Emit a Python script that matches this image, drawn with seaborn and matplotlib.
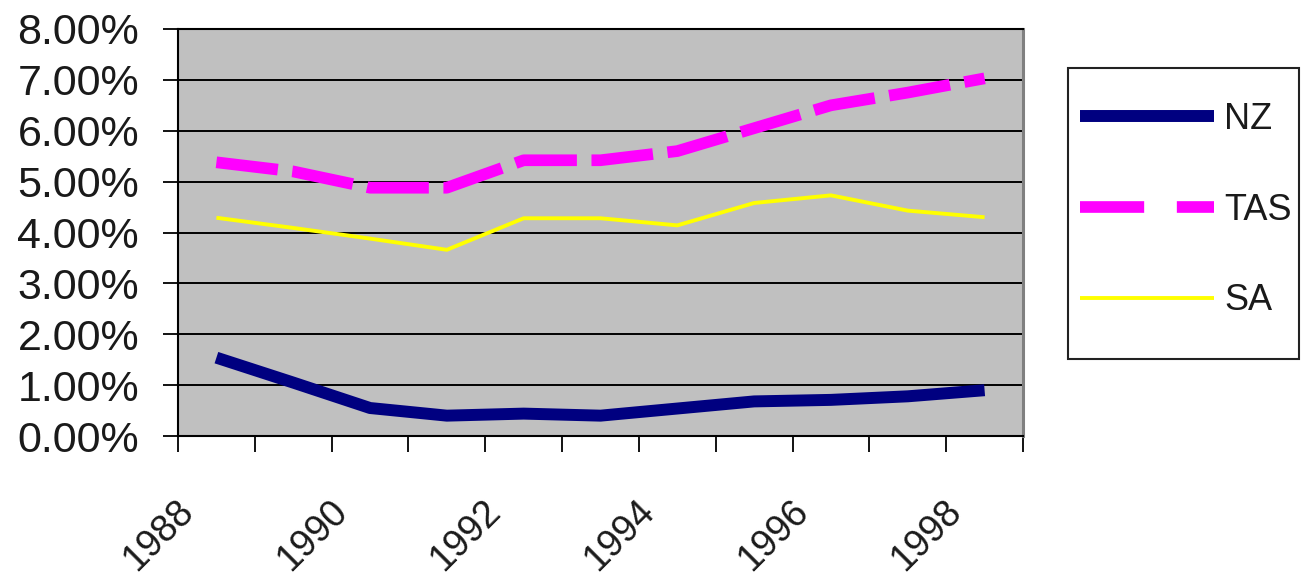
import numpy as np
import pandas as pd
import matplotlib
matplotlib.use("Agg")
import matplotlib.pyplot as plt
import matplotlib.transforms as mtransforms
from matplotlib.patches import Rectangle
from matplotlib.lines import Line2D
from matplotlib.ticker import FuncFormatter
import seaborn as sns

# ---- data ----
years = [1988, 1989, 1990, 1991, 1992, 1993, 1994, 1995, 1996, 1997, 1998]
nz = [1.54, 1.05, 0.55, 0.40, 0.44, 0.40, 0.54, 0.68, 0.71, 0.78, 0.90]
tas = [5.38, 5.20, 4.88, 4.88, 5.42, 5.42, 5.60, 6.05, 6.50, 6.75, 7.03]
sa = [4.29, 4.09, 3.88, 3.66, 4.28, 4.28, 4.14, 4.58, 4.73, 4.43, 4.30]
series_names = ["NZ", "TAS", "SA"]
label_years = [1988, 1990, 1992, 1994, 1996, 1998]
y_ticks = [0, 1, 2, 3, 4, 5, 6, 7, 8]

sns.set_theme(style="white")
plt.rcParams["font.family"] = ["Liberation Sans", "DejaVu Sans"]

W, H = 1302, 582
fig = plt.figure(figsize=(W / 100, H / 100), dpi=100)
ax = fig.add_axes([178 / W, 1 - 436 / H, (1023 - 178) / W, (436 - 29) / H])
ax.set_facecolor("#C0C0C0")

styles = {
    "NZ": dict(color="#000080", linewidth=8.6, linestyle="-"),
    "TAS": dict(color="#FF00FF", linewidth=8.4, linestyle=(0, (5.3, 1.25))),
    "SA": dict(color="#FFFF00", linewidth=2.8, linestyle="-"),
}
values = {"NZ": nz, "TAS": tas, "SA": sa}
for name in series_names:
    sns.lineplot(x=years, y=values[name], ax=ax, label=name,
                 solid_capstyle="butt", dash_capstyle="butt", **styles[name])

ax.set_xlim(years[0] - 0.5, years[-1] + 0.5)
ax.set_ylim(0, 8)
ax.set_yticks(y_ticks)
ax.yaxis.set_major_formatter(FuncFormatter(lambda v, p: f"{v:.2f}%"))
ax.tick_params(axis="y", which="major", direction="out", length=11, width=1.3,
               color="black", labelsize=31, pad=17, labelcolor="#1a1a1a", left=True)
ax.grid(axis="y", color="black", linewidth=1.4)
ax.grid(axis="x", visible=False)
ax.set_axisbelow(True)

# x axis: tick marks at category boundaries, labels at every other category
ax.set_xticks(np.arange(years[0] - 0.5, years[-1] + 1.0, 1.0))
ax.set_xticklabels([])
ax.set_xticks(label_years, minor=True)
ax.set_xticklabels([str(y) for y in label_years], minor=True)
ax.tick_params(axis="x", which="major", direction="out", length=11.5, width=1.3,
               color="black", bottom=True)
ax.tick_params(axis="x", which="minor", length=0, pad=41, labelsize=27,
               labelcolor="#1a1a1a", bottom=True)
offset = mtransforms.ScaledTranslation(-41 / 100, 0, fig.dpi_scale_trans)
for lab in ax.get_xticklabels(minor=True):
    lab.set_rotation(45)
    lab.set_ha("right")
    lab.set_va("top")
    lab.set_rotation_mode("anchor")
    lab.set_transform(lab.get_transform() + offset)

ax.set_xlabel("")
ax.set_ylabel("")
for side in ["left", "bottom", "top"]:
    ax.spines[side].set_color("black")
    ax.spines[side].set_linewidth(1.5)
    ax.spines[side].set_visible(True)
ax.spines["right"].set_color("#808080")
ax.spines["right"].set_linewidth(2.2)
ax.spines["right"].set_visible(True)

# legend
handles, labels = ax.get_legend_handles_labels()
if ax.get_legend() is not None:
    ax.get_legend().remove()
leg_handles = []
for h, lab in zip(handles, labels):
    ls = (0, (5.5, 2.8, 30, 1)) if lab == "TAS" else "-"
    leg_handles.append(Line2D([], [], color=h.get_color(), linewidth=h.get_linewidth(),
                              linestyle=ls, solid_capstyle="butt", dash_capstyle="butt"))
leg = fig.legend(leg_handles, labels, loc="center",
                 bbox_to_anchor=(1186 / W, 1 - 210 / H),
                 frameon=False, fontsize=26, handlelength=3.7,
                 handletextpad=0.28, labelspacing=1.55, borderpad=0)
for t in leg.get_texts():
    t.set_color("#1a1a1a")
fig.patches.append(Rectangle((1068 / W, 1 - 359 / H), (1299 - 1068) / W, (359 - 68) / H,
                             transform=fig.transFigure, fill=False,
                             edgecolor="#222222", linewidth=1.5))

fig.savefig("out.png", dpi=100, facecolor="white")
